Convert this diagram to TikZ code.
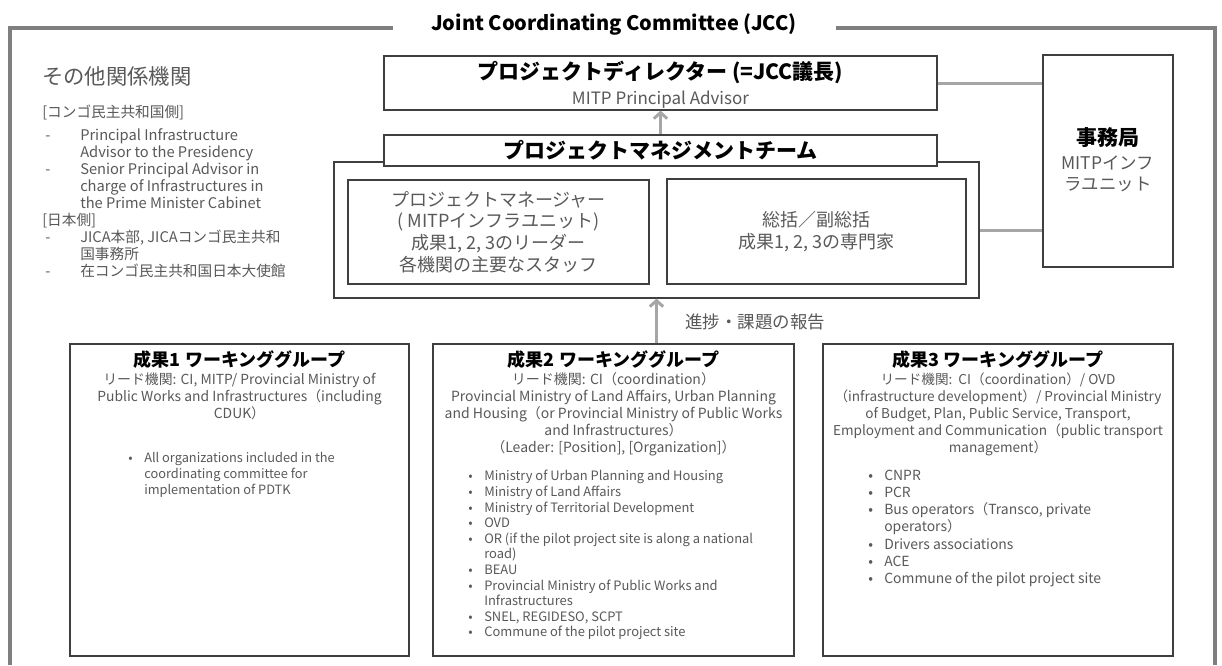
\documentclass[tikz,border=0pt]{standalone}
\usepackage{fontspec}
\setmainfont{Noto Sans CJK JP}
\usetikzlibrary{arrows.meta}
\definecolor{txtc}{HTML}{595959}
\definecolor{frm}{HTML}{7F7F7F}
\definecolor{con}{HTML}{A6A6A6}
\definecolor{bdr}{HTML}{3F3F3F}
\newcommand\up[1]{\rule{0pt}{#1}}
\newcommand\dashitem{\hspace*{2.25pt}\makebox[26.25pt][l]{-}}
\newcommand\indentitem{\hspace*{28.5pt}}
\newcommand\bul{\makebox[12pt][l]{•}}
\newcommand\bin{\hspace*{12pt}}
\begin{document}
\begin{tikzpicture}[x=0.75pt,y=-0.75pt,
  box/.style={draw=bdr,line width=0.9pt,fill=white,inner sep=0pt,rectangle},
  tx/.style={inner sep=0pt,text=txtc},
  hd/.style={inner sep=0pt,text=black},
  conn/.style={draw=con,line width=2.25pt},
  arr/.style={draw=con,line width=2.25pt,-{Straight Barb[length=4.5pt,width=10pt]}},
  frame/.style={draw=frm,line width=2.6pt},
]
\useasboundingbox (0,0) rectangle (1222,665);
\fill[white] (0,0) rectangle (1222,665);

% outer frame with title
\node[hd,anchor=base,font=\fontsize{15pt}{18pt}\selectfont\bfseries] (jcc) at (614,30) {Joint Coordinating Committee (JCC)};
\coordinate (fl) at (393,28);
\coordinate (fr) at (836,28);
\draw[frame] (fl) -- (10,28) -- (10,665);
\draw[frame] (fr) -- (1215,28) -- (1215,665);

% left text block
\node[tx,anchor=base west,font=\fontsize{16pt}{19pt}\selectfont] (oth) at (42,84.8) {その他関係機関};
\node[tx,anchor=north west,align=left,font=\fontsize{11pt}{12.75pt}\selectfont] (othL) at (42,103.3)
 {\up{10.45pt}[コンゴ民主共和国側]\\[4.5pt]
  \dashitem Principal Infrastructure\\
  \indentitem Advisor to the Presidency\\
  \dashitem Senior Principal Advisor in\\
  \indentitem charge of Infrastructures in\\
  \indentitem the Prime Minister Cabinet\\
  {}[日本側]\\
  \dashitem JICA本部, JICAコンゴ民主共和\\
  \indentitem 国事務所\\
  \dashitem 在コンゴ民主共和国日本大使館};

% director
\node[box,minimum width=414.75pt,minimum height=40.5pt] (dir) at (660.5,83) {};
\node[hd,anchor=base,font=\fontsize{15.75pt}{19pt}\selectfont\bfseries] (dirT) at (660.5,79.8) {プロジェクトディレクター (=JCC議長)};
\node[tx,anchor=base,font=\fontsize{12.75pt}{15pt}\selectfont] (dirS) at (660.5,104.3) {MITP Principal Advisor};

% project management team
\node[box,minimum width=483.75pt,minimum height=102pt] (pmt) at (656.5,230) {};
\node[box,minimum width=414.75pt,minimum height=23.25pt,text=black,font=\fontsize{15.75pt}{19pt}\selectfont\bfseries] (pmth) at (660.5,150.5) {プロジェクトマネジメントチーム};
\node[box,minimum width=225.75pt,minimum height=78pt,align=center,text=txtc,font=\fontsize{13.5pt}{16.3pt}\selectfont] (pm) at (498.5,232)
 {プロジェクトマネージャー\\( MITPインフラユニット)\\成果1, 2, 3のリーダー\\各機関の主要なスタッフ};
\node[box,minimum width=224.25pt,minimum height=78.75pt,align=center,text=txtc,font=\fontsize{13.5pt}{16.3pt}\selectfont] (exp) at (816.5,231.5)
 {総括／副総括\\成果1, 2, 3の専門家};

% secretariat
\node[box,minimum width=97.5pt,minimum height=159pt] (sec) at (1108,161) {};
\node[hd,anchor=base,font=\fontsize{15.75pt}{19pt}\selectfont\bfseries] (secT) at (1108,145.8) {事務局};
\node[tx,anchor=north,align=center,font=\fontsize{13.1pt}{15.75pt}\selectfont] (secS) at (1108,152.7) {\up{12.45pt}MITPインフ\\ラユニット};

% connectors
\draw[conn] (dir.east) -- (dir.east -| sec.west);
\draw[conn] (pmt.east) -- (pmt.east -| sec.west);
\draw[arr] (pmth.north) -- (dir.south);

% working groups
\node[box,minimum width=254.25pt,minimum height=234pt] (wg1) at (239.5,500) {};
\node[box,minimum width=270.75pt,minimum height=234pt] (wg2) at (613.5,500) {};
\node[box,minimum width=262.5pt,minimum height=234pt] (wg3) at (998,500) {};
\draw[arr] (pmt.south |- wg2.north) -- (pmt.south);
\node[tx,anchor=base west,font=\fontsize{13.1pt}{15pt}\selectfont] (rep) at (685,328.5) {進捗・課題の報告};

% WG1
\node[hd,anchor=base,font=\fontsize{13.5pt}{16pt}\selectfont\bfseries] (wg1T) at (239.5,366.7) {成果1 ワーキンググループ};
\node[tx,anchor=north,align=center,font=\fontsize{10.4pt}{12.75pt}\selectfont] (wg1L) at (239.5,370.8)
 {\up{9.9pt}リード機関: CI, MITP/ Provincial Ministry of\\Public Works and Infrastructures（including\\CDUK）};
\node[tx,anchor=north west,align=left,font=\fontsize{9.6pt}{12pt}\selectfont] (wg1B) at (128,450.5)
 {\up{9.1pt}\bul All organizations included in the\\\bin coordinating committee for\\\bin implementation of PDTK};

% WG2
\node[hd,anchor=base,font=\fontsize{13.5pt}{16pt}\selectfont\bfseries] (wg2T) at (613.5,366.7) {成果2 ワーキンググループ};
\node[tx,anchor=north,align=center,font=\fontsize{10.5pt}{12.75pt}\selectfont] (wg2L) at (613.5,370.7)
 {\up{10pt}リード機関: CI（coordination）\\Provincial Ministry of Land Affairs, Urban Planning\\and Housing（or Provincial Ministry of Public Works\\and Infrastructures）\\（Leader: [Position], [Organization]）};
\node[tx,anchor=north west,align=left,font=\fontsize{9.7pt}{11.7pt}\selectfont] (wg2B) at (468,468.4)
 {\up{9.2pt}\bul Ministry of Urban Planning and Housing\\
  \bul Ministry of Land Affairs\\
  \bul Ministry of Territorial Development\\
  \bul OVD\\
  \bul OR (if the pilot project site is along a national\\
  \bin road)\\
  \bul BEAU\\
  \bul Provincial Ministry of Public Works and\\
  \bin Infrastructures\\
  \bul SNEL, REGIDESO, SCPT\\
  \bul Commune of the pilot project site};

% WG3
\node[hd,anchor=base,font=\fontsize{13.5pt}{16pt}\selectfont\bfseries] (wg3T) at (998,366.7) {成果3 ワーキンググループ};
\node[tx,anchor=north,align=center,font=\fontsize{10.2pt}{12.75pt}\selectfont] (wg3L) at (998,371)
 {\up{9.7pt}リード機関:\ \ CI（coordination）/ OVD\\（infrastructure development）/ Provincial Ministry\\of Budget, Plan, Public Service, Transport,\\Employment and Communication（public transport\\management）};
\node[tx,anchor=north west,align=left,font=\fontsize{10.45pt}{12.9pt}\selectfont] (wg3B) at (868,466.8)
 {\up{9.93pt}\bul CNPR\\
  \bul PCR\\
  \bul Bus operators（Transco, private\\
  \bin operators）\\
  \bul Drivers associations\\
  \bul ACE\\
  \bul Commune of the pilot project site};
\end{tikzpicture}
\end{document}
